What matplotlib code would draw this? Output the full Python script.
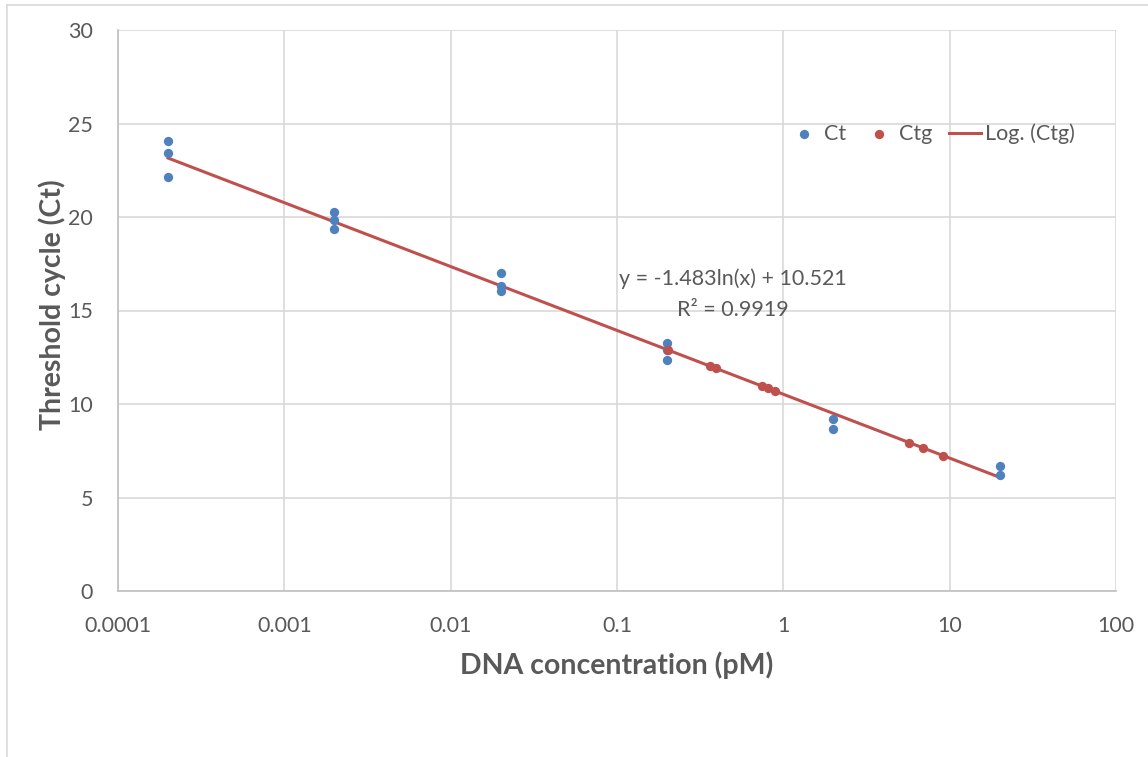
import numpy as np
import matplotlib
matplotlib.use("Agg")
import matplotlib.pyplot as plt
from matplotlib.ticker import FixedLocator, FixedFormatter

plt.rcParams['font.family'] = ['Lato', 'DejaVu Sans']

# Ct replicates
ct_x = [0.0002, 0.0002, 0.0002, 0.002, 0.002, 0.002, 0.02, 0.02, 0.02,
        0.2, 0.2, 0.2, 2, 2, 20, 20]
ct_y = [24.06, 23.42, 22.14, 20.27, 19.84, 19.36, 17.0, 16.3, 16.04,
        13.26, 12.9, 12.35, 9.2, 8.66, 6.68, 6.2]

# Ctg points
ctg_x = [0.203, 0.363, 0.394, 0.746, 0.811, 0.893, 5.7, 6.93, 9.15]
ctg_y = [12.89, 12.02, 11.90, 10.95, 10.83, 10.69, 7.94, 7.65, 7.24]

# log trendline coefficients (y = a ln(x) + b)
fit_a = -1.483
fit_b = 10.521
fit_range = [0.0002, 20]

xticks = [0.0001, 0.001, 0.01, 0.1, 1, 10, 100]
xtick_labels = ['0.0001', '0.001', '0.01', '0.1', '1', '10', '100']
yticks = [0, 5, 10, 15, 20, 25, 30]

blue = '#4F81BD'
red = '#C0504D'
txt = '#595959'
grid = '#D9D9D9'

fig = plt.figure(figsize=(11.48, 7.57), dpi=100)
ax = fig.add_axes([118/1148, 1 - 591/757, 998/1148, 561/757])

xs = np.logspace(np.log10(fit_range[0]), np.log10(fit_range[1]), 200)
ax.scatter(ct_x, ct_y, s=45, color=blue, zorder=3, label='Ct', linewidths=0)
ax.scatter(ctg_x, ctg_y, s=45, color=red, zorder=4, label='Ctg', linewidths=0)
ax.plot(xs, fit_a*np.log(xs) + fit_b, color=red, lw=2.2, zorder=2, label='Log. (Ctg)')

ax.set_xscale('log')
ax.set_xlim(0.0001, 100)
ax.set_ylim(0, 30)
ax.xaxis.set_major_locator(FixedLocator(xticks))
ax.xaxis.set_major_formatter(FixedFormatter(xtick_labels))
ax.xaxis.set_minor_locator(FixedLocator([]))
ax.set_yticks(yticks)
ax.grid(True, color=grid, lw=1.2)
ax.set_axisbelow(True)
for s in ['top', 'right']:
    ax.spines[s].set_visible(False)
for s in ['left', 'bottom']:
    ax.spines[s].set_color('#BFBFBF')
    ax.spines[s].set_linewidth(1.2)
ax.tick_params(length=0, labelsize=15.5, colors=txt)
ax.tick_params(axis='y', pad=18)
ax.tick_params(axis='x', pad=18)

ax.set_xlabel('DNA concentration (pM)', fontsize=20.5, fontweight='bold', color=txt)
ax.set_ylabel('Threshold cycle (Ct)', fontsize=20.5, fontweight='bold', color=txt)
ax.xaxis.set_label_coords(0.5, -0.107)
ax.yaxis.set_label_coords(-0.052, 0.51)

ax.text(0.5, 16.72, 'y = -1.483ln(x) + 10.521', fontsize=15.5, color=txt, ha='center', va='center')
ax.text(0.5, 15.02, 'R² = 0.9919', fontsize=15.5, color=txt, ha='center', va='center')

ax.legend(loc='center', bbox_to_anchor=(0.815, 0.815), ncol=3, frameon=False,
          fontsize=15.5, labelcolor=txt, handlelength=1.5, columnspacing=0.75,
          handletextpad=0.2, scatterpoints=1)

# chart area border
fig.add_artist(plt.Line2D([7/1148, 7/1148], [0, 1 - 5/757], color=grid, lw=1.2))
fig.add_artist(plt.Line2D([7/1148, 1], [1 - 5/757, 1 - 5/757], color=grid, lw=1.2))

fig.savefig('out.png', dpi=100)
